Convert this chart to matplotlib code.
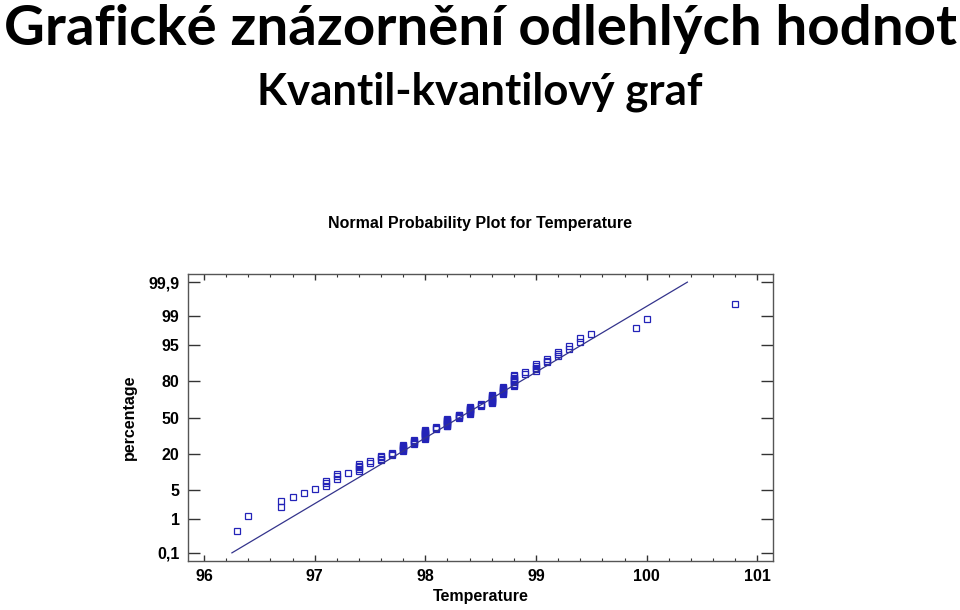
import matplotlib
matplotlib.use('Agg')
import matplotlib.pyplot as plt
from matplotlib.ticker import MultipleLocator
from statistics import NormalDist

# Naměřené teploty (°F) a jejich četnosti
temps = [96.3, 96.4, 96.7, 96.8, 96.9, 97.0, 97.1, 97.2, 97.3, 97.4, 97.5,
         97.6, 97.7, 97.8, 97.9, 98.0, 98.1, 98.2, 98.3, 98.4, 98.5, 98.6,
         98.7, 98.8, 98.9, 99.0, 99.1, 99.2, 99.3, 99.4, 99.5, 99.9, 100.0,
         100.8]
counts = [1, 1, 2, 1, 1, 1, 3, 3, 1, 5, 2, 4, 3, 7, 5, 11, 3, 10, 5, 9, 3,
          10, 8, 10, 2, 5, 3, 3, 2, 2, 1, 1, 1, 1]

# parametry přímky
fit_center = 98.31
fit_scale = 0.666

y_ticks_pct = [0.1, 1, 5, 20, 50, 80, 95, 99, 99.9]
y_tick_labels = ['0,1', '1', '5', '20', '50', '80', '95', '99', '99,9']
x_ticks = [96, 97, 98, 99, 100, 101]

nd = NormalDist()

# seřazená data a pořadové pozice
values = []
for t, c in zip(temps, counts):
    values += [t] * c
n = len(values)
z = [nd.inv_cdf((i + 1 - 0.375) / (n + 0.25)) for i in range(n)]

fig = plt.figure(figsize=(9.6, 6.1), dpi=100)
renderer = fig.canvas.get_renderer()


def fit_text(x, y, s, width_px, size):
    # velikost písma tak, aby text měl danou šířku
    t = fig.text(x, y, s, family='Lato', weight='bold', fontsize=size,
                 ha='center', va='baseline')
    w = t.get_window_extent(renderer).width
    t.set_fontsize(size * width_px / w)
    return t


# nadpisy snímku
fit_text(0.5005, 1 - 45 / 610, 'Grafické znázornění odlehlých hodnot', 952, 40)
fit_text(0.5, 1 - 104 / 610, 'Kvantil-kvantilový graf', 446, 34)

ax = fig.add_axes([188 / 960, 49 / 610, 585 / 960, 287 / 610])

ax.plot(values, z, 's', ms=3.8, mfc='none', mec='#2323b8', mew=0.9)

zl = [nd.inv_cdf(0.001), nd.inv_cdf(0.999)]
ax.plot([fit_center + fit_scale * zz for zz in zl], zl, color='#34348c', lw=0.9)

ax.set_xlim(95.855, 101.142)
ax.set_ylim(-3.276, 3.276)
ax.set_xticks(x_ticks)
ax.xaxis.set_minor_locator(MultipleLocator(0.2))
ax.set_yticks([nd.inv_cdf(p / 100) for p in y_ticks_pct])
ax.set_yticklabels(y_tick_labels)

for lab in ax.get_xticklabels() + ax.get_yticklabels():
    lab.set_family('Liberation Sans')
    lab.set_weight('bold')
    lab.set_fontsize(11.5)

ax.tick_params(axis='x', which='major', direction='in', length=4, width=1,
               top=True, pad=6, color='#333333')
ax.tick_params(axis='x', which='minor', direction='in', length=2.5, width=0.8,
               top=True, color='#333333')
ax.tick_params(axis='y', which='major', direction='in', length=8.5, width=1,
               right=True, pad=6, color='#333333')
for s in ax.spines.values():
    s.set_color('#555555')
    s.set_linewidth(1)

ax.set_xlabel('Temperature', family='Liberation Sans', weight='bold',
              fontsize=11.5, labelpad=3)
ax.set_ylabel('percentage', family='Liberation Sans', weight='bold',
              fontsize=11.5, labelpad=8)
ax.set_title('Normal Probability Plot for Temperature', family='Liberation Sans',
             weight='bold', fontsize=11.5, pad=33)

fig.savefig('out.png', dpi=100)
